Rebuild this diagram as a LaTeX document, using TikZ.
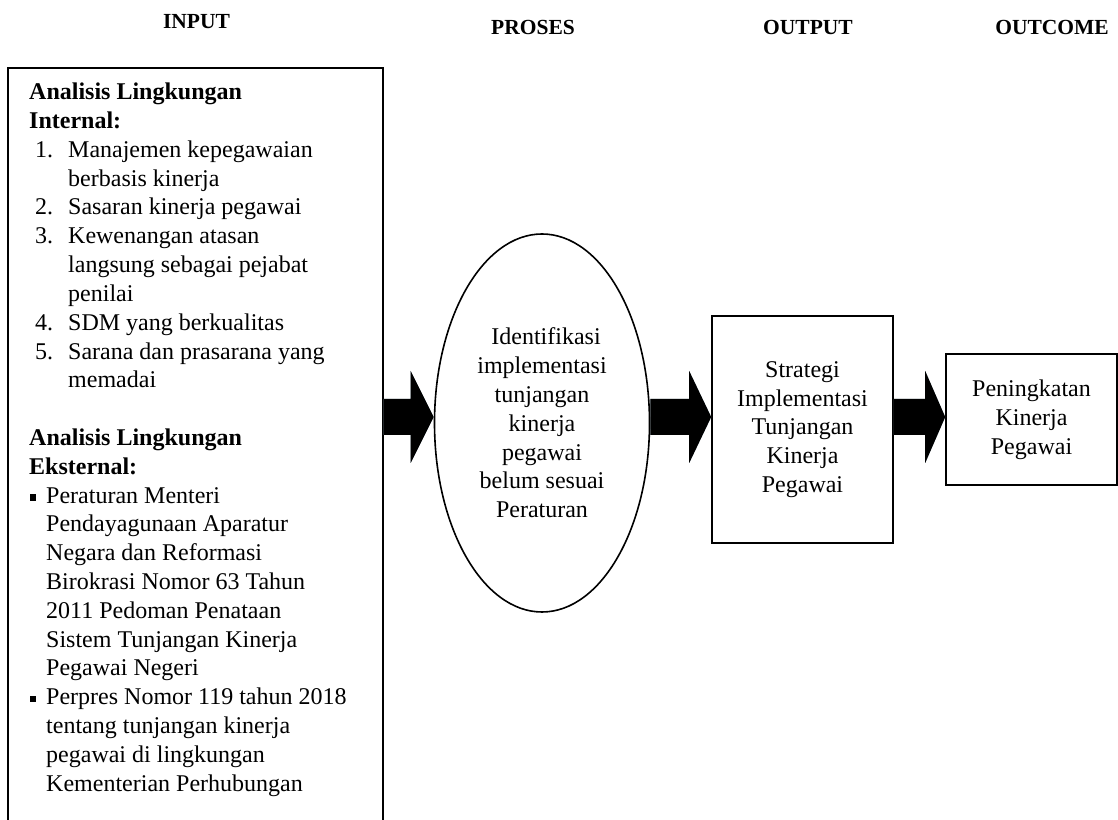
\documentclass[tikz,border=0pt]{standalone}
\usepackage{fontspec}
\setmainfont{Liberation Serif}
\usetikzlibrary{calc}
\usetikzlibrary{shapes.geometric}
\definecolor{shadowgray}{RGB}{158,178,190}

% block arrow with a soft shadow: from, to, head length
\newcommand{\blockarrow}[3]{%
  \foreach \layer/\dx/\dy in {shadowgray/3/-4, black/0/0}
  \fill[\layer, shift={(\dx,\dy)}] let \p1=(#1), \p2=(#2) in
    (\x1,\y1+18) -- (\x2-#3,\y1+18) -- (\x2-#3,\y1+46)
    -- (\x2,\y1) -- (\x2-#3,\y1-46) -- (\x2-#3,\y1-18)
    -- (\x1,\y1-18) -- cycle;}
\newcommand{\bodyfont}{\fontsize{24}{28.8}\selectfont}

\begin{document}
\begin{tikzpicture}[
    x=1pt, y=1pt,
    box/.style={rectangle, draw, line width=1.6pt, inner sep=0pt, align=center, font=\bodyfont},
    oval/.style={ellipse, draw, line width=1.6pt, inner sep=0pt, align=center, font=\bodyfont},
    heading/.style={font=\fontsize{21.5}{25}\selectfont\bfseries, inner sep=0pt}
]
\useasboundingbox (0,0) rectangle (1118,819);

% Headings
\node[heading] (hinput) at (196.5,797.5) {INPUT};
\node[heading] (hproses) at (533,792) {PROSES};
\node[heading] (houtput) at (808,792) {OUTPUT};
\node[heading] (houtcome) at (1052,792) {OUTCOME};

% Components
\node[box, anchor=north west, minimum width=375, minimum height=800] (input) at (7,752) {};
\node[anchor=base west, align=left, inner sep=0pt, font=\bodyfont] (inputtext) at (29,28) {%
\textbf{Analisis Lingkungan}\\
\textbf{Internal:}\\
\hspace*{6pt}\makebox[33pt][l]{1.}Manajemen kepegawaian\\
\hspace*{39pt}berbasis kinerja\\
\hspace*{6pt}\makebox[33pt][l]{2.}Sasaran kinerja pegawai\\
\hspace*{6pt}\makebox[33pt][l]{3.}Kewenangan atasan\\
\hspace*{39pt}langsung sebagai pejabat\\
\hspace*{39pt}penilai\\
\hspace*{6pt}\makebox[33pt][l]{4.}SDM yang berkualitas\\
\hspace*{6pt}\makebox[33pt][l]{5.}Sarana dan prasarana yang\\
\hspace*{39pt}memadai\\[28.8pt]
\textbf{Analisis Lingkungan}\\
\textbf{Eksternal:}\\
\hspace*{1pt}\rule[2.5pt]{6pt}{6pt}\hspace*{10pt}Peraturan Menteri\\
\hspace*{17pt}Pendayagunaan Aparatur\\
\hspace*{17pt}Negara dan Reformasi\\
\hspace*{17pt}Birokrasi Nomor 63 Tahun\\
\hspace*{17pt}2011 Pedoman Penataan\\
\hspace*{17pt}Sistem Tunjangan Kinerja\\
\hspace*{17pt}Pegawai Negeri\\
\hspace*{1pt}\rule[2.5pt]{6pt}{6pt}\hspace*{10pt}Perpres Nomor 119 tahun 2018\\
\hspace*{17pt}tentang tunjangan kinerja\\
\hspace*{17pt}pegawai di lingkungan\\
\hspace*{17pt}Kementerian Perhubungan};
\node[oval, minimum width=215, minimum height=378] (proses) at (542,396)
  {\hspace*{8pt}Identifikasi\\implementasi\\tunjangan\\kinerja\\pegawai\\belum sesuai\\Peraturan};
\node[box, minimum width=181, minimum height=227] (output) at (802.5,389.5)
  {Strategi\\Implementasi\\Tunjangan\\Kinerja\\Pegawai};
\node[box, minimum width=171, minimum height=131] (outcome) at (1031.5,399.5)
  {Peningkatan\\Kinerja\\Pegawai};

% Flows
\coordinate (flowrow) at (0,402);
\blockarrow{input.east |- flowrow}{proses.west |- flowrow}{23}
\blockarrow{proses.east |- flowrow}{output.west |- flowrow}{22}
\blockarrow{output.east |- flowrow}{outcome.west |- flowrow}{20}

\end{tikzpicture}
\end{document}
